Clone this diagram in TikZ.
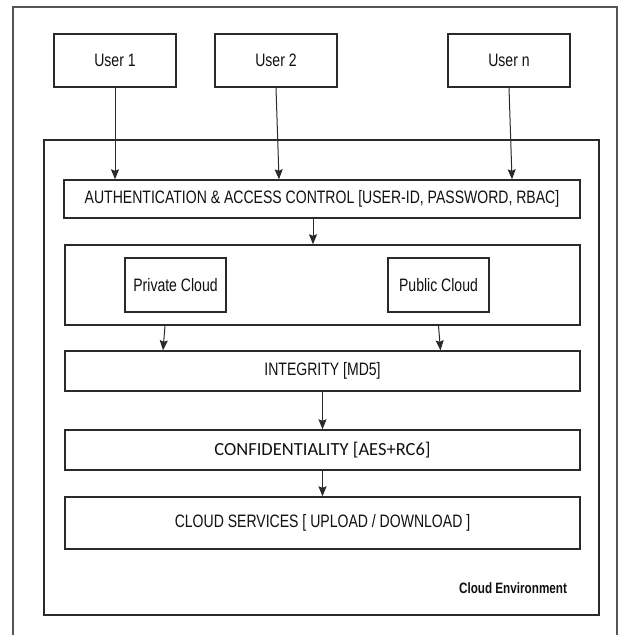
\documentclass[tikz,border=0pt]{standalone}
\usepackage{fontspec}
\setmainfont{Liberation Sans}
\newfontfamily\narrowfont[FakeStretch=0.78]{Liberation Sans}
\newfontfamily\calfont{Carlito}
\usetikzlibrary{arrows.meta}
\definecolor{linec}{HTML}{2A2A2A}
\definecolor{framec}{HTML}{555555}
\definecolor{textc}{HTML}{111111}
\tikzset{
  box/.style={draw=linec, line width=1.4pt, rectangle, inner sep=0pt, text=textc,
    font=\narrowfont\fontsize{18}{20}\selectfont},
  arr/.style={draw=linec, line width=1pt, -{Stealth[length=10pt,width=8pt,inset=1.5pt]}},
}
\begin{document}
\begin{tikzpicture}[x=1pt,y=-1pt]
\useasboundingbox[fill=white] (0,0) rectangle (621,635);
% outer frame (runs off the bottom)
\draw[framec, line width=1.4pt] (13,640) -- (13,7) -- (617,7) -- (617,640);
% cloud environment frame
\draw[linec, line width=1.3pt] (44,140) rectangle (599,615);
\node[font=\narrowfont\bfseries\fontsize{15}{17}\selectfont, text=textc] (env) at (513,588) {Cloud Environment};

% users
\node[box, minimum width=122pt, minimum height=53pt] (u1) at (115,60.5) {User 1};
\node[box, minimum width=122pt, minimum height=53pt] (u2) at (276,60.5) {User 2};
\node[box, minimum width=122pt, minimum height=53pt] (un) at (509,60.5) {User n};

% layers
\node[box, minimum width=516pt, minimum height=38pt] (auth) at (322,199) {AUTHENTICATION \& ACCESS CONTROL [USER-ID, PASSWORD, RBAC]};
\node[box, minimum width=515pt, minimum height=80pt] (cloud) at (322.5,285) {};
\node[box, minimum width=101pt, minimum height=54pt] (priv) at (175.5,285) {Private Cloud};
\node[box, minimum width=101pt, minimum height=54pt] (pub) at (438.5,285) {Public Cloud};
\node[box, minimum width=515pt, minimum height=40pt] (integ) at (322.5,371) {INTEGRITY [MD5]};
\node[box, minimum width=515pt, minimum height=40pt, font=\calfont\fontsize{18.5}{20}\selectfont] (conf) at (322.5,450) {CONFIDENTIALITY [AES+RC6]};
\node[box, minimum width=515pt, minimum height=52pt] (serv) at (322.5,523) {CLOUD SERVICES [ UPLOAD / DOWNLOAD ]};

% connectors
\draw[arr] (u1.south) -- (auth.north -| u1.south);
\draw[arr] (u2.south) -- ([xshift=3pt]auth.north -| u2.south);
\draw[arr] (un.south) -- ([xshift=3pt]auth.north -| un.south);
\draw[arr] ([xshift=-9pt]auth.south) -- ([xshift=-9.5pt]cloud.north);
\draw[arr] (cloud.south -| 165,0) -- (integ.north -| 163,0);
\draw[arr] (cloud.south -| pub.south) -- ([xshift=2pt]integ.north -| pub.south);
\draw[arr] (integ.south) -- (conf.north);
\draw[arr] (conf.south) -- (serv.north);
\end{tikzpicture}
\end{document}
